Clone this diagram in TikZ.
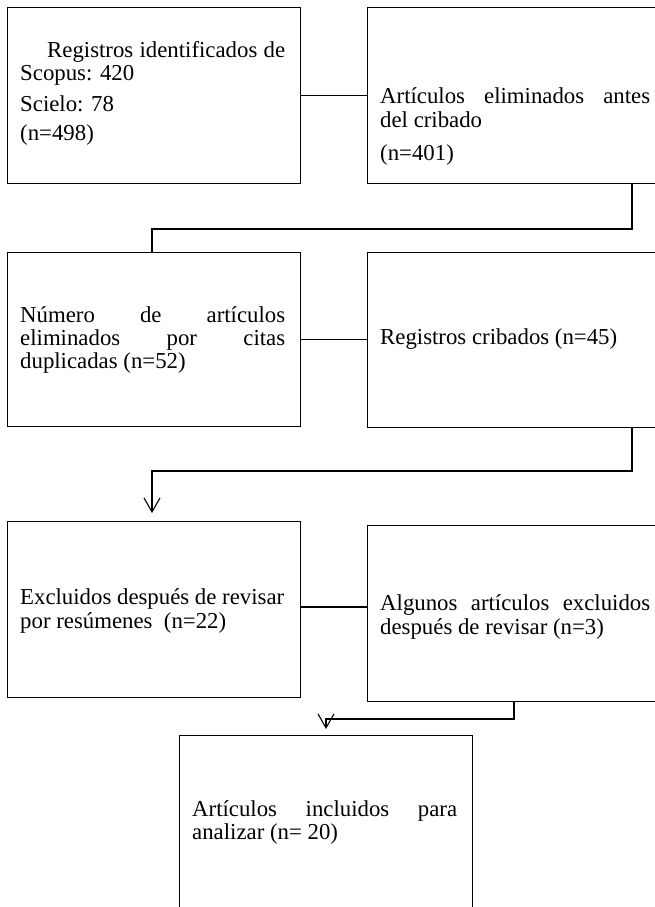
\documentclass[tikz,border=0pt]{standalone}
\usepackage{fontspec}
\setmainfont{Liberation Serif}
\usetikzlibrary{arrows.meta,calc}
\tikzset{
  box/.style={draw=black, line width=1.3pt, rectangle, inner sep=0pt, anchor=north west},
  conn/.style={draw=black, line width=1.1pt},
  arr/.style={conn, -{Straight Barb[length=14pt,width=16pt,line width=1.1pt]}},
  ln/.style={anchor=base west, inner sep=0pt, font=\fontsize{22.8}{24}\selectfont}
}
\newcommand{\jl}[2]{\makebox[#1][s]{#2}}
\begin{document}
\begin{tikzpicture}[x=1pt,y=-1pt]
\useasboundingbox (0,0) rectangle (655,907);
\clip (0,0) rectangle (655,907);
\fill[white] (0,0) rectangle (655,907);
% boxes
\node[box, minimum width=293.5pt, minimum height=176pt] (b1) at (6.5,7) {};
\node[box, minimum width=310pt, minimum height=176pt] (b2) at (367,7) {};
\node[box, minimum width=293.5pt, minimum height=174pt] (b3) at (6.5,252) {};
\node[box, minimum width=310pt, minimum height=175pt] (b4) at (367,252) {};
\node[box, minimum width=293.5pt, minimum height=176pt] (b5) at (6.5,521) {};
\node[box, minimum width=310pt, minimum height=176pt] (b6) at (367,525) {};
\node[box, minimum width=293pt, minimum height=200pt] (b7) at (179,735) {};
% texts
\node[ln] (t11) at (20,57) {\jl{265pt}{\hspace*{27pt}Registros identificados de}};
\node[ln] (t12) at (20,81) {Scopus: 420};
\node[ln] (t13) at (20,111) {Scielo: 78};
\node[ln] (t14) at (20,140) {(n=498)};
\node[ln] (t21) at (380,103) {\jl{270pt}{Artículos eliminados antes}};
\node[ln] (t22) at (380,127) {del cribado};
\node[ln] (t23) at (380,160) {(n=401)};
\node[ln] (t31) at (20,322) {\jl{265pt}{Número de artículos}};
\node[ln] (t32) at (20,345) {\jl{265pt}{eliminados por citas}};
\node[ln] (t33) at (20,368) {duplicadas (n=52)};
\node[ln] (t41) at (380,344) {Registros cribados (n=45)};
\node[ln] (t51) at (20,604) {Excluidos después de revisar};
\node[ln] (t52) at (20,628) {por resúmenes \ (n=22)};
\node[ln] (t61) at (380,610) {\jl{270pt}{Algunos artículos excluidos}};
\node[ln] (t62) at (380,634) {después de revisar (n=3)};
\node[ln] (t71) at (192,816) {\jl{265pt}{Artículos incluidos para}};
\node[ln] (t72) at (192,839) {analizar (n= 20)};
% connectors
\draw[conn] (b1.east) -- (b1.east -| b2.west);
\coordinate (k1) at (632,229);
\coordinate (k2) at (152,229);
\draw[conn] (k1 |- b2.south) -- (k1) -- (k2) -- (k2 |- b3.north);
\draw[conn] (b3.east) -- (b3.east -| b4.west);
\coordinate (k3) at (632,471);
\coordinate (k4) at (152,471);
\coordinate (k5) at (152,513);
\draw[arr] (k3 |- b4.south) -- (k3) -- (k4) -- (k5);
\coordinate (k9) at (300,607);
\draw[conn] (k9 -| b5.east) -- (k9 -| b6.west);
\coordinate (k6) at (514,719);
\coordinate (k7) at (326,719);
\coordinate (k8) at (326,729);
\draw[arr] (k6 |- b6.south) -- (k6) -- (k7) -- (k8);
\end{tikzpicture}
\end{document}
